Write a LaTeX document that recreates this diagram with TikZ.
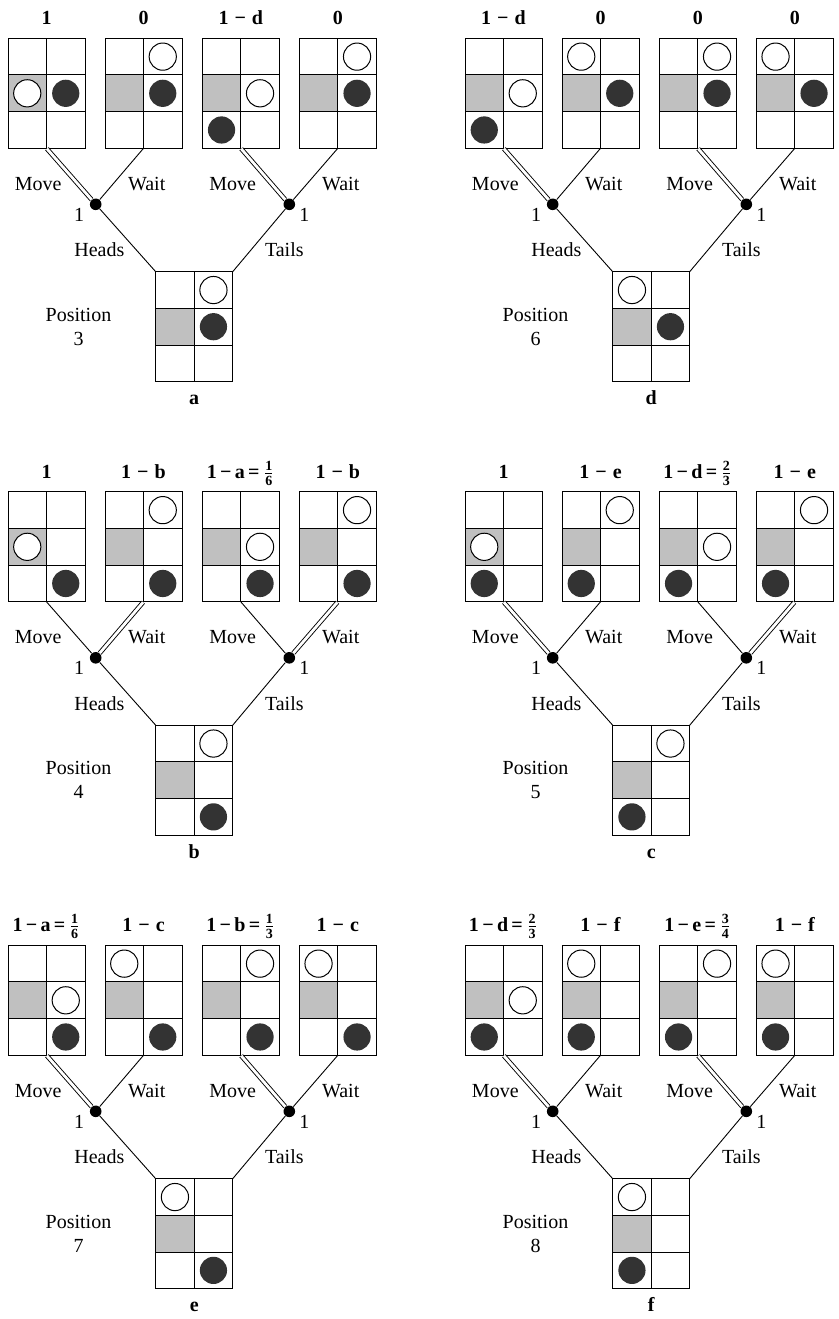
\documentclass[tikz,border=0pt]{standalone}
\usepackage{amsmath}
\usepackage{fontspec}
\setmainfont{Liberation Serif}
\usepackage{tikz}
\usetikzlibrary{positioning}
\definecolor{CellGray}{HTML}{C0C0C0}
\definecolor{StoneBlack}{HTML}{333333}

\tikzset{
  boardbox/.style={draw, line width=0.5pt, minimum width=38.5pt, minimum height=55pt, inner sep=0pt, outer sep=0pt},
  gridline/.style={line width=0.5pt},
  whitestone/.style={draw, fill=white, line width=0.5pt},
  blackstone/.style={fill=StoneBlack},
  chance/.style={circle, fill=black, inner sep=0pt, minimum size=5.8pt},
  branch/.style={line width=0.45pt},
  bestbranch/.style={double, line width=0.45pt, double distance=1.4pt, shorten <=0.3pt},
  payoff/.style={font=\bfseries, inner sep=0pt, text depth=0pt},
  edgelabel/.style={anchor=base, inner sep=0pt},
  poslabel/.style={align=center, inner sep=0pt},
  panellabel/.style={font=\bfseries, inner sep=0pt, text height=7pt, text depth=0pt}
}

% board: name, top left corner, white stone cell, black stone cell
\newcommand{\board}[4]{%
  \begin{scope}[shift={(#2)}, x=19.25pt, y=-18.333pt, shift={(-0.5,-0.5)}]
    \fill[CellGray] (0.5,1.5) rectangle (1.5,2.5);
    \draw[gridline] (1.5,0.5) -- (1.5,3.5) (0.5,1.5) -- (2.5,1.5) (0.5,2.5) -- (2.5,2.5);
    \draw[whitestone] (#3) circle[radius=6.8pt];
    \fill[blackstone] (#4) circle[radius=6.8pt];
  \end{scope}
  \node[boardbox, anchor=north west] (#1) at (#2) {};
}
\newcommand{\oneminus}[1]{1\hspace{3pt}−\hspace{3pt}#1}
\newcommand{\oneminuseq}[3]{1\,−\,#1\,=\,$\frac{\text{#2}}{\text{#3}}$}
\newcommand{\payoffs}[5]{%
  \node[payoff, above=6.65pt of #11] {#2};
  \node[payoff, above=6.65pt of #12] {#3};
  \node[payoff, above=6.65pt of #13] {#4};
  \node[payoff, above=6.65pt of #14] {#5};
}
% tree: prefix, four branch styles, position, letter
\newcommand{\cointree}[7]{%
  \node[chance] (#1H) at (95.7,204.3) {};
  \node[chance] (#1T) at (289.3,204.3) {};
  \draw[#2] (#11.south) -- (#1H);
  \draw[#3] (#12.south) -- (#1H);
  \draw[#4] (#13.south) -- (#1T);
  \draw[#5] (#14.south) -- (#1T);
  \draw[branch] (#1H) -- (#10.north west);
  \draw[branch] (#1T) -- (#10.north east);
  \node[edgelabel] at (38.3,190) {Move};
  \node[edgelabel] at (146.7,190) {Wait};
  \node[edgelabel] at (232.7,190) {Move};
  \node[edgelabel] at (340.7,190) {Wait};
  \node[edgelabel] at (79,221) {1};
  \node[edgelabel] at (304.3,221) {1};
  \node[edgelabel] at (99.3,256.7) {Heads};
  \node[edgelabel] at (284.3,256.7) {Tails};
  \node[poslabel, left=22pt of #10] {Position\\#6};
  \node[panellabel, below=4.2pt of #10] {#7};
}

\begin{document}
\begin{tikzpicture}[x=0.5pt,y=-0.5pt]
\path[use as bounding box] (0,0) rectangle (839,1319);
% panel a
\begin{scope}[shift={(0,0)}]
\board{a1}{8,38.3}{1,2}{2,2}
\board{a2}{105,38.3}{2,1}{2,2}
\board{a3}{202.3,38.3}{2,2}{1,3}
\board{a4}{299.3,38.3}{2,1}{2,2}
\board{a0}{155.7,271.7}{2,1}{2,2}
\payoffs{a}{1}{0}{\oneminus{d}}{0}
\cointree{a}{bestbranch}{branch}{bestbranch}{branch}{3}{a}
\end{scope}
% panel d
\begin{scope}[shift={(457,0)}]
\board{d1}{8,38.3}{2,2}{1,3}
\board{d2}{105,38.3}{1,1}{2,2}
\board{d3}{202.3,38.3}{2,1}{2,2}
\board{d4}{299.3,38.3}{1,1}{2,2}
\board{d0}{155.7,271.7}{1,1}{2,2}
\payoffs{d}{\oneminus{d}}{0}{0}{0}
\cointree{d}{bestbranch}{branch}{bestbranch}{branch}{6}{d}
\end{scope}
% panel b
\begin{scope}[shift={(0,453.5)}]
\board{b1}{8,38.3}{1,2}{2,3}
\board{b2}{105,38.3}{2,1}{2,3}
\board{b3}{202.3,38.3}{2,2}{2,3}
\board{b4}{299.3,38.3}{2,1}{2,3}
\board{b0}{155.7,271.7}{2,1}{2,3}
\payoffs{b}{1}{\oneminus{b}}{\oneminuseq{a}{1}{6}}{\oneminus{b}}
\cointree{b}{branch}{bestbranch}{branch}{bestbranch}{4}{b}
\end{scope}
% panel c
\begin{scope}[shift={(457,453.5)}]
\board{c1}{8,38.3}{1,2}{1,3}
\board{c2}{105,38.3}{2,1}{1,3}
\board{c3}{202.3,38.3}{2,2}{1,3}
\board{c4}{299.3,38.3}{2,1}{1,3}
\board{c0}{155.7,271.7}{2,1}{1,3}
\payoffs{c}{1}{\oneminus{e}}{\oneminuseq{d}{2}{3}}{\oneminus{e}}
\cointree{c}{bestbranch}{branch}{branch}{bestbranch}{5}{c}
\end{scope}
% panel e
\begin{scope}[shift={(0,907)}]
\board{e1}{8,38.3}{2,2}{2,3}
\board{e2}{105,38.3}{1,1}{2,3}
\board{e3}{202.3,38.3}{2,1}{2,3}
\board{e4}{299.3,38.3}{1,1}{2,3}
\board{e0}{155.7,271.7}{1,1}{2,3}
\payoffs{e}{\oneminuseq{a}{1}{6}}{\oneminus{c}}{\oneminuseq{b}{1}{3}}{\oneminus{c}}
\cointree{e}{bestbranch}{branch}{bestbranch}{branch}{7}{e}
\end{scope}
% panel f
\begin{scope}[shift={(457,907)}]
\board{f1}{8,38.3}{2,2}{1,3}
\board{f2}{105,38.3}{1,1}{1,3}
\board{f3}{202.3,38.3}{2,1}{1,3}
\board{f4}{299.3,38.3}{1,1}{1,3}
\board{f0}{155.7,271.7}{1,1}{1,3}
\payoffs{f}{\oneminuseq{d}{2}{3}}{\oneminus{f}}{\oneminuseq{e}{3}{4}}{\oneminus{f}}
\cointree{f}{bestbranch}{branch}{bestbranch}{branch}{8}{f}
\end{scope}
\end{tikzpicture}
\end{document}
